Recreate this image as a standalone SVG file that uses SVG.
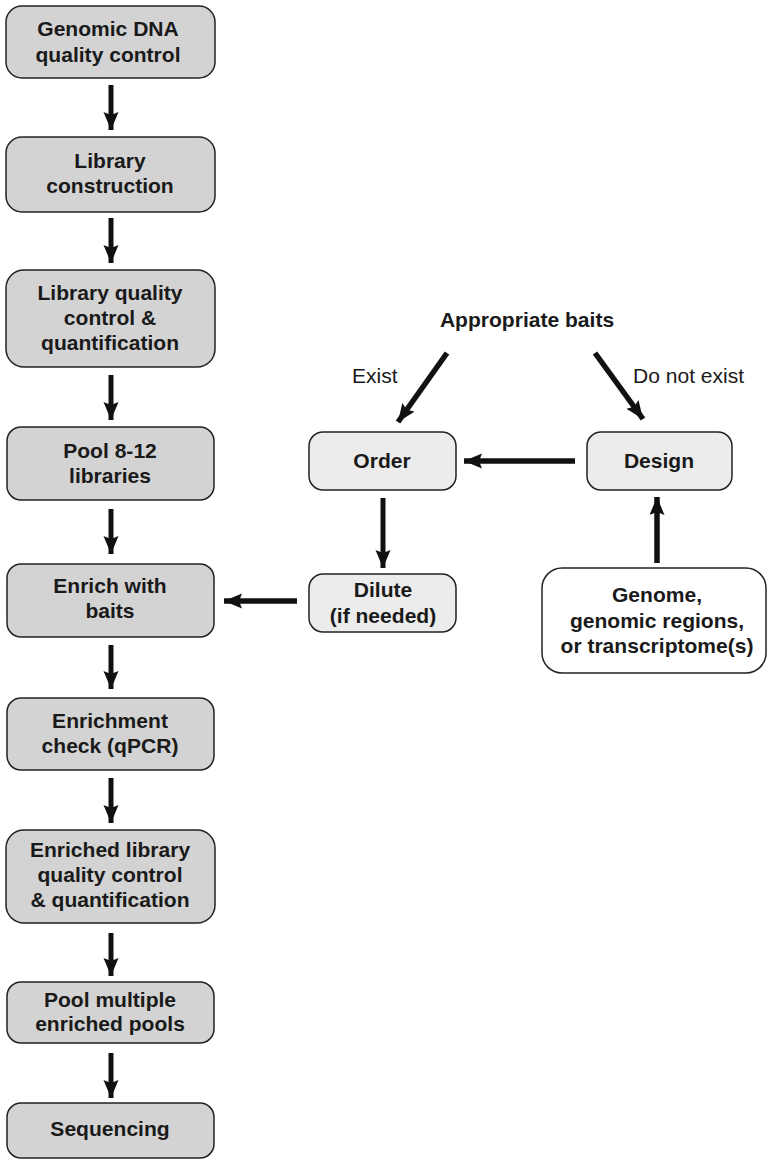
<svg xmlns="http://www.w3.org/2000/svg" width="768" height="1161" viewBox="0 0 768 1161">
<style>
.lb{fill:#d3d3d3;stroke:#222;stroke-width:1.5}
.rb{fill:#ececec;stroke:#222;stroke-width:1.5}
.wb{fill:#fff;stroke:#222;stroke-width:1.5}
text{font-family:"Liberation Sans",Arial,sans-serif;font-size:19.5px;fill:#1a1a1a}
.b{font-weight:bold;text-anchor:middle}
.n{font-weight:normal}
.c{fill:none;stroke:#111;stroke-width:5}
.t{stroke-width:5.5}
</style>
<defs>
<marker id="ah" markerUnits="userSpaceOnUse" markerWidth="19" markerHeight="16" refX="18" refY="7.5" orient="auto">
<path d="M0,0 L18,7.5 L0,15 L3,7.5 z" fill="#111"/>
</marker>
</defs>
<rect width="768" height="1161" fill="#fff"/>
<g id="n1"><rect class="lb" x="6" y="6" width="209" height="72" rx="16"/>
<g transform="translate(108,0) scale(1.08,1)"><text class="b" x="0" y="36">Genomic DNA</text><text class="b" x="0" y="62">quality control</text></g></g>
<g id="n2"><rect class="lb" x="6" y="137" width="209" height="75" rx="16"/>
<g transform="translate(110,0) scale(1.08,1)"><text class="b" x="0" y="168">Library</text><text class="b" x="0" y="193">construction</text></g></g>
<g id="n3"><rect class="lb" x="6" y="270" width="209" height="97" rx="18"/>
<g transform="translate(110,0) scale(1.08,1)"><text class="b" x="0" y="300">Library quality</text><text class="b" x="0" y="325">control &amp;</text><text class="b" x="0" y="350">quantification</text></g></g>
<g id="n4"><rect class="lb" x="7" y="427" width="207" height="73" rx="14"/>
<g transform="translate(110,0) scale(1.08,1)"><text class="b" x="0" y="458">Pool 8-12</text><text class="b" x="0" y="483">libraries</text></g></g>
<g id="n5"><rect class="lb" x="7" y="564" width="207" height="73" rx="14"/>
<g transform="translate(110,0) scale(1.08,1)"><text class="b" x="0" y="593">Enrich with</text><text class="b" x="0" y="618">baits</text></g></g>
<g id="n6"><rect class="lb" x="7" y="698" width="207" height="72" rx="14"/>
<g transform="translate(110,0) scale(1.08,1)"><text class="b" x="0" y="728">Enrichment</text><text class="b" x="0" y="753">check (qPCR)</text></g></g>
<g id="n7"><rect class="lb" x="6" y="830" width="209" height="93" rx="18"/>
<g transform="translate(110,0) scale(1.08,1)"><text class="b" x="0" y="857">Enriched library</text><text class="b" x="0" y="882">quality control</text><text class="b" x="0" y="907">&amp; quantification</text></g></g>
<g id="n8"><rect class="lb" x="7" y="982" width="207" height="61" rx="14"/>
<g transform="translate(110,0) scale(1.08,1)"><text class="b" x="0" y="1007">Pool multiple</text><text class="b" x="0" y="1031">enriched pools</text></g></g>
<g id="n9"><rect class="lb" x="7" y="1103" width="207" height="55" rx="14"/>
<g transform="translate(110,0) scale(1.08,1)"><text class="b" x="0" y="1136">Sequencing</text></g></g>
<g id="baits"><g transform="translate(527,0) scale(1.08,1)"><text class="b" x="0" y="327">Appropriate baits</text></g></g>
<g id="order"><rect class="rb" x="309" y="432" width="147" height="58" rx="14"/>
<g transform="translate(382,0) scale(1.08,1)"><text class="b" x="0" y="468">Order</text></g></g>
<g id="design"><rect class="rb" x="587" y="432" width="145" height="58" rx="14"/>
<g transform="translate(659,0) scale(1.08,1)"><text class="b" x="0" y="468">Design</text></g></g>
<g id="dilute"><rect class="rb" x="309" y="574" width="147" height="58" rx="14"/>
<g transform="translate(383,0) scale(1.08,1)"><text class="b" x="0" y="597">Dilute</text><text class="b" x="0" y="623">(if needed)</text></g></g>
<g id="genome"><rect class="wb" x="542" y="568" width="224" height="105" rx="20"/>
<g transform="translate(657,0) scale(1.08,1)"><text class="b" x="0" y="602">Genome,</text><text class="b" x="0" y="628">genomic regions,</text><text class="b" x="0" y="653">or transcriptome(s)</text></g></g>
<g id="connectors">
<line class="c" x1="111" y1="85" x2="111" y2="130" marker-end="url(#ah)"/>
<line class="c" x1="111" y1="218" x2="111" y2="263" marker-end="url(#ah)"/>
<line class="c" x1="111" y1="375" x2="111" y2="420" marker-end="url(#ah)"/>
<line class="c" x1="111" y1="509" x2="111" y2="554" marker-end="url(#ah)"/>
<line class="c" x1="111" y1="645" x2="111" y2="689" marker-end="url(#ah)"/>
<line class="c" x1="111" y1="778" x2="111" y2="823" marker-end="url(#ah)"/>
<line class="c" x1="111" y1="933" x2="111" y2="976" marker-end="url(#ah)"/>
<line class="c" x1="111" y1="1053" x2="111" y2="1098" marker-end="url(#ah)"/>
<line class="c t" x1="447" y1="353" x2="398" y2="422" marker-end="url(#ah)"/>
<line class="c t" x1="595" y1="353" x2="643" y2="419" marker-end="url(#ah)"/>
<line class="c t" x1="575" y1="461" x2="464" y2="461" marker-end="url(#ah)"/>
<line class="c" x1="383" y1="498" x2="383" y2="568" marker-end="url(#ah)"/>
<line class="c t" x1="297" y1="601" x2="224" y2="601" marker-end="url(#ah)"/>
<line class="c t" x1="657" y1="563" x2="657" y2="497" marker-end="url(#ah)"/>
<g transform="translate(352,383) scale(1.08,1)"><text class="n" x="0" y="0">Exist</text></g>
<g transform="translate(633,383) scale(1.08,1)"><text class="n" x="0" y="0">Do not exist</text></g>
</g>
</svg>
